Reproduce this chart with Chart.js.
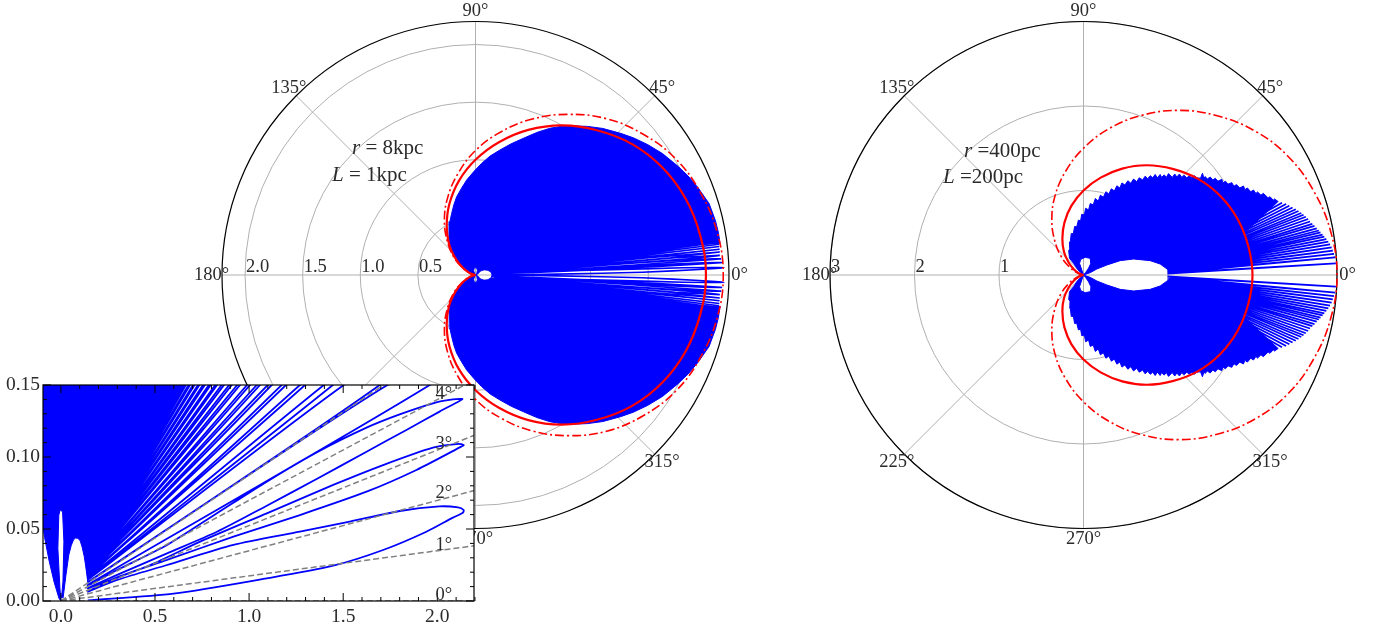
<!DOCTYPE html>
<html>
<head>
<meta charset="utf-8">
<title>Polar emission patterns</title>
<script src="https://cdn.jsdelivr.net/npm/chart.js"></script>
<style>
    body { margin: 0; background: #fff; }
    canvas { position: absolute; left: 0; top: 0; }
</style>
</head>
<body>
<canvas id="leftPolar" width="1380" height="626"></canvas>
<canvas id="rightPolar" width="1380" height="626"></canvas>
<canvas id="inset" width="1380" height="626"></canvas>
<script>
// red reference curves, one radius per 10 degrees from 0 to 180
const redAngles = [0, 10, 20, 30, 40, 50, 60, 70, 80, 90, 100, 110, 120, 130, 140, 150, 160, 170, 180];
const solidR = [2.00, 1.98, 1.94, 1.87, 1.77, 1.64, 1.50, 1.34, 1.17, 1.00, 0.83, 0.66, 0.50, 0.36, 0.23, 0.13, 0.06, 0.015, 0];
const leftDashR = [2.15, 2.13, 2.08, 2.01, 1.90, 1.77, 1.61, 1.44, 1.26, 1.08, 0.89, 0.71, 0.54, 0.38, 0.25, 0.14, 0.06, 0.016, 0];
const rightDashR = [3.00, 2.97, 2.90, 2.80, 2.65, 2.46, 2.25, 2.01, 1.76, 1.50, 1.24, 0.99, 0.75, 0.53, 0.35, 0.20, 0.09, 0.02, 0];

// left panel, blue outline of the solid part
const envelopeAngles = [7.5, 10, 12.8, 17, 21.4, 25, 28.2, 33, 37.1, 41, 44.3, 49, 53, 56, 59.3, 63.1, 66.7, 70.7, 74.8, 78.9, 83, 86.8, 90.8, 95.3, 99, 103.5, 107, 111.1, 115.5, 120.2, 126, 132, 140, 150, 153, 156, 160, 170, 180];
const envelopeR = [2.14, 2.14, 2.135, 2.12, 2.075, 2.035, 1.995, 1.935, 1.875, 1.815, 1.76, 1.685, 1.615, 1.56, 1.505, 1.428, 1.347, 1.257, 1.18, 1.106, 1.04, 0.971, 0.9, 0.828, 0.765, 0.699, 0.64, 0.574, 0.515, 0.452, 0.39, 0.33, 0.22, 0.125, 0.097, 0.068, 0.038, 0.01, 0];
// white spike and white petal next to the origin, then the edge of the solid part
const innerX = [0, -0.005, -0.016, -0.011, -0.004, 0.009, 0.016, 0.011, 0.0035, 0.012, 0.027, 0.042, 0.055, 0.067, 0.078, 0.09, 0.102, 0.113, 0.124, 0.131, 0.143, 0.145, 0.66, 1.0, 1.5, 1.8, 2.12];
const innerY = [0, 0.0088, 0.0366, 0.0597, 0.0632, 0.062, 0.0412, 0.0134, 0.0023, 0.0023, 0.018, 0.032, 0.0385, 0.0425, 0.0437, 0.0435, 0.042, 0.0375, 0.031, 0.025, 0.0134, 0.0325, 0.15, 0.215, 0.23, 0.26, 0.272];

// first three lobes
const lobeX = [0.143, 0.599, 1.094, 1.447, 1.712, 1.942, 2.083, 2.136, 2.14, 2.11, 2.012, 1.8, 1.535, 1.27, 0.917, 0.564, 0.299, 0.143,
    0.299, 0.564, 0.917, 1.27, 1.624, 1.889, 2.127, 2.14, 2.101, 1.977, 1.712, 1.447, 1.094, 0.74, 0.475, 0.143,
    0.299, 0.564, 0.829, 1.094, 1.359, 1.624, 1.836, 2.012, 2.118, 2.133, 2.065, 1.977, 1.8, 1.624, 1.359, 1.094, 0.829, 0.564, 0.299, 0.143];
const lobeY = [0.0005, 0.0051, 0.0157, 0.0245, 0.0354, 0.0481, 0.0579, 0.0613, 0.0632, 0.065, 0.0657, 0.0625, 0.0551, 0.0481, 0.0389, 0.025, 0.0146, 0.0065,
    0.0164, 0.0285, 0.0447, 0.0597, 0.0759, 0.091, 0.1072, 0.1083, 0.109, 0.1065, 0.0944, 0.0806, 0.0609, 0.0412, 0.025, 0.0088,
    0.0181, 0.0331, 0.0481, 0.0662, 0.0847, 0.1037, 0.1188, 0.1315, 0.1389, 0.1403, 0.1396, 0.1373, 0.1296, 0.1204, 0.1032, 0.0829, 0.0609, 0.0389, 0.0215, 0.0106];

// narrower lobes: start height, crossings of y = 0.15, tip
const fanStartY = [0.0113, 0.0131, 0.0147, 0.0163, 0.0177, 0.0189, 0.02, 0.0211, 0.0222, 0.0233, 0.0244, 0.0255, 0.0265, 0.0276, 0.0287, 0.0298, 0.0308, 0.0318];
const fanLowX = [1.96, 1.694, 1.445, 1.297, 1.196, 1.12, 1.058, 1.005, 0.952, 0.908, 0.867, 0.83, 0.796, 0.765, 0.736, 0.71, 0.686, 0.664];
const fanHighX = [1.735, 1.503, 1.397, 1.27, 1.173, 1.099, 1.041, 0.989, 0.937, 0.894, 0.854, 0.82, 0.786, 0.755, 0.728, 0.702, 0.678, 0.657];
const fanTipX = [2.12, 2.12, 2.118, 2.116, 2.113, 2.11, 2.108, 2.106, 2.104, 2.1, 2.098, 2.096, 2.093, 2.09, 2.087, 2.084, 2.08, 2.077];
const fanTipY = [0.17, 0.199, 0.223, 0.247, 0.267, 0.285, 0.302, 0.317, 0.333, 0.35, 0.365, 0.381, 0.397, 0.412, 0.428, 0.443, 0.457, 0.472];

// right panel, jagged top of the blue area going anticlockwise
const jagX = [2.306, 2.26, 2.245, 2.207, 2.185, 2.128, 2.1, 2.06, 2.04, 2.012, 1.98, 1.94, 1.91, 1.893, 1.85, 1.81, 1.78, 1.755, 1.71, 1.68, 1.65, 1.637, 1.59, 1.56, 1.53, 1.499, 1.465, 1.44, 1.425, 1.408, 1.385, 1.341, 1.31, 1.282, 1.25, 1.223, 1.19, 1.164, 1.135, 1.105, 1.08, 1.05, 1.006, 0.98, 0.955, 0.925, 0.907, 0.875, 0.848, 0.82, 0.79, 0.76, 0.73, 0.7, 0.66, 0.63, 0.592, 0.56, 0.525, 0.49, 0.455, 0.43, 0.395, 0.365, 0.33, 0.3, 0.265, 0.235, 0.2, 0.175, 0.14, 0.115, 0.08, 0.06, 0.025, 0.01, -0.02, -0.035, -0.06, -0.08, -0.105, -0.12, -0.145, -0.155, -0.165, -0.16, -0.175, -0.166, -0.118, -0.071, -0.032, 0];
const jagY = [0.868, 0.9, 0.885, 0.927, 0.912, 0.966, 0.945, 0.983, 0.965, 1.006, 0.985, 1.03, 1.01, 1.053, 1.03, 1.07, 1.05, 1.093, 1.075, 1.11, 1.09, 1.132, 1.11, 1.145, 1.125, 1.16, 1.135, 1.165, 1.145, 1.205, 1.145, 1.15, 1.175, 1.15, 1.175, 1.15, 1.18, 1.155, 1.195, 1.16, 1.195, 1.155, 1.2, 1.155, 1.185, 1.155, 1.19, 1.15, 1.19, 1.15, 1.175, 1.14, 1.17, 1.125, 1.15, 1.105, 1.135, 1.085, 1.115, 1.065, 1.09, 1.03, 1.055, 0.995, 1.02, 0.96, 0.985, 0.92, 0.945, 0.875, 0.905, 0.83, 0.845, 0.77, 0.79, 0.71, 0.72, 0.64, 0.65, 0.57, 0.575, 0.49, 0.49, 0.4, 0.39, 0.31, 0.29, 0.197, 0.138, 0.067, 0.028, 0];
// small petal, top of the white oval, then the edge of the solid part
const holeX = [-0.02, -0.047, -0.032, 0.02, 0.079, 0.087, 0.059, 0.024, 0, 0.079, 0.158, 0.276, 0.434, 0.592, 0.789, 0.907, 0.994, 1.494, 1.674, 1.932];
const holeY = [0.059, 0.138, 0.185, 0.209, 0.197, 0.138, 0.079, 0.028, 0, 0.028, 0.071, 0.118, 0.17, 0.189, 0.17, 0.13, 0.067, 0.131, 0.295, 0.518];
// separate spikes reaching out towards 0 degrees
const spikeAngles = [2.65, 4.0, 4.8, 5.6, 6.36, 7.1, 7.75, 8.4, 9.04, 9.6, 10.2, 10.7, 11.3, 12.0, 12.6, 13.3, 14.0, 14.7, 15.3, 15.9, 16.6, 17.2, 17.9, 18.6, 19.3, 20.0];
const spikeR = [2.99, 2.985, 2.975, 2.965, 2.955, 2.94, 2.924, 2.905, 2.886, 2.87, 2.85, 2.835, 2.815, 2.795, 2.775, 2.755, 2.74, 2.72, 2.7, 2.68, 2.655, 2.63, 2.6, 2.57, 2.54, 2.5];
const spikeStartY = [0.015, 0.022, 0.03, 0.035, 0.04, 0.045, 0.05, 0.054, 0.058, 0.061, 0.063, 0.065, 0.067, 0.069, 0.07, 0.072, 0.073, 0.075, 0.076, 0.078, 0.08, 0.082, 0.084, 0.086, 0.088, 0.092];

// inset rays
const rayDegrees = [0, 1, 2, 3, 4, 5];
const rayLabels = ["0°", "1°", "2°", "3°", "4°"];
const rayLabelY = [0.0042, 0.0389, 0.0748, 0.109, 0.1437];

// axis labels
const angleTicks = [0, 45, 90, 135, 180, 225, 270, 315];
const leftRings = [0.5, 1.0, 1.5, 2.0];
const leftRingLabels = ["0.5", "1.0", "1.5", "2.0"];
const rightRings = [1, 2, 3];
const rightRingLabels = ["1", "2", "3"];
const insetXTicks = [0, 0.5, 1, 1.5, 2];
const insetYTicks = [0, 0.05, 0.1, 0.15];

const FONT = '18.5px "Liberation Serif"';
const NOTE_FONT = '21px "Liberation Serif"';
const NOTE_ITALIC = 'italic 21px "Liberation Serif"';
const TEXT = "#2b2b2b";
const BLUE = "#0000ff";
const RED = "#ff0000";

function toXY(deg, r) {
    const a = deg * Math.PI / 180;
    return { x: r * Math.cos(a), y: r * Math.sin(a) };
}
function zipXY(xs, ys) {
    return xs.map((x, i) => ({ x: x, y: ys[i] }));
}
function mirror(points) {
    return points.map(p => ({ x: p.x, y: -p.y }));
}
// full closed curve from one half, going through 180 -> 0 -> -180
function redCurve(radii) {
    const top = redAngles.map((a, i) => toXY(a, radii[i]));
    return top.slice().reverse().concat(mirror(top).slice(1));
}

const leftSolid = zipXY(innerX, innerY).concat(envelopeAngles.map((a, i) => toXY(a, envelopeR[i])));
function leftLobes() {
    const pts = zipXY(lobeX, lobeY);
    fanLowX.forEach((low, i) => {
        pts.push({ x: 0.143, y: fanStartY[i] });
        pts.push({ x: low, y: 0.15 });
        pts.push({ x: fanTipX[i], y: fanTipY[i] });
        pts.push({ x: fanHighX[i], y: 0.15 });
    });
    pts.push({ x: 0.143, y: 0.0318 });
    return pts;
}
function rightSpikes() {
    const pts = [];
    spikeAngles.forEach((a, i) => {
        pts.push({ x: 0.994, y: spikeStartY[i] });
        pts.push(toXY(a, spikeR[i]));
    });
    pts.push({ x: 0.994, y: 0.095 });
    return pts;
}
const rightSolid = zipXY(jagX, jagY).concat(zipXY(holeX, holeY));

function line(points, color, width, extra) {
    return Object.assign({ data: points, showLine: true, borderColor: color, backgroundColor: color,
        borderWidth: width, pointRadius: 0, tension: 0, clip: false }, extra || {});
}
function solid(points) {
    return line(points, BLUE, 1, { solid: true });
}
const dashDot = { borderDash: [9, 3, 2, 3], tension: 0.4 };

// fills the datasets flagged solid, their points already placed by the scales
const solidFill = {
    id: "solidFill",
    beforeDatasetDraw(chart, args) {
        const ds = chart.data.datasets[args.index];
        if (!ds.solid) return;
        const ctx = chart.ctx, a = chart.chartArea;
        ctx.save();
        if (ds.clipFill) {
            ctx.beginPath();
            ctx.rect(a.left, a.top, a.right - a.left, a.bottom - a.top);
            ctx.clip();
        }
        ctx.beginPath();
        args.meta.data.forEach((p, i) => i ? ctx.lineTo(p.x, p.y) : ctx.moveTo(p.x, p.y));
        ctx.closePath();
        ctx.fillStyle = BLUE;
        ctx.fill();
        ctx.restore();
    }
};

function polarFrame(rMax, rings, ringLabels, notes) {
    return {
        id: "polarFrame",
        beforeDatasetsDraw(chart) {
            const ctx = chart.ctx, sx = chart.scales.x, sy = chart.scales.y;
            const cx = sx.getPixelForValue(0), cy = sy.getPixelForValue(0);
            const unit = sx.getPixelForValue(1) - cx;
            ctx.save();
            ctx.strokeStyle = "#b0b0b0";
            ctx.lineWidth = 1;
            rings.forEach(r => {
                ctx.beginPath();
                ctx.arc(cx, cy, r * unit, 0, Math.PI * 2);
                ctx.stroke();
            });
            angleTicks.forEach(deg => {
                const a = deg * Math.PI / 180;
                ctx.beginPath();
                ctx.moveTo(cx, cy);
                ctx.lineTo(cx + rMax * unit * Math.cos(a), cy - rMax * unit * Math.sin(a));
                ctx.stroke();
            });
            ctx.strokeStyle = "#000";
            ctx.lineWidth = 1.2;
            ctx.beginPath();
            ctx.arc(cx, cy, rMax * unit, 0, Math.PI * 2);
            ctx.stroke();

            ctx.font = FONT;
            ctx.fillStyle = TEXT;
            ctx.textAlign = "center";
            ctx.textBaseline = "middle";
            angleTicks.forEach(deg => {
                const a = deg * Math.PI / 180;
                const d = rMax * unit + 10.5;
                ctx.fillText(deg + "°", cx + d * Math.cos(a), cy - d * Math.sin(a));
            });
            ctx.textAlign = "left";
            ctx.textBaseline = "alphabetic";
            rings.forEach((r, i) => ctx.fillText(ringLabels[i], cx - r * unit + 1, cy - 3));
            notes.forEach(n => {
                ctx.font = NOTE_ITALIC;
                ctx.fillText(n.sym, n.x, n.y);
                const w = ctx.measureText(n.sym).width;
                ctx.font = NOTE_FONT;
                ctx.fillText(n.rest, n.x + w, n.y);
            });
            ctx.restore();
        }
    };
}

function polarOptions(rMax, left, right, top, bottom) {
    return {
        responsive: false,
        animation: false,
        events: [],
        layout: { padding: { left: left, right: 1380 - right, top: top, bottom: 626 - bottom } },
        plugins: { legend: { display: false }, tooltip: { enabled: false } },
        scales: {
            x: { type: "linear", display: false, min: -rMax, max: rMax },
            y: { type: "linear", display: false, min: -rMax, max: rMax }
        }
    };
}

new Chart(document.getElementById("leftPolar"), {
    type: "scatter",
    data: { datasets: [
        line(redCurve(solidR), RED, 2.2, { tension: 0.4 }),
        line(redCurve(leftDashR), RED, 1.6, dashDot),
        line(leftLobes(), BLUE, 1.6),
        line(mirror(leftLobes()), BLUE, 1.6),
        solid(leftSolid),
        solid(mirror(leftSolid))
    ] },
    options: polarOptions(2.2, 222, 729, 21.5, 528.5),
    plugins: [solidFill, polarFrame(2.2, leftRings, leftRingLabels, [
        { sym: "r", rest: " = 8kpc", x: 352, y: 154 },
        { sym: "L", rest: " = 1kpc", x: 332, y: 181 }
    ])]
});

new Chart(document.getElementById("rightPolar"), {
    type: "scatter",
    data: { datasets: [
        line(redCurve(solidR), RED, 2.2, { tension: 0.4 }),
        line(redCurve(rightDashR), RED, 1.6, dashDot),
        line(rightSpikes(), BLUE, 1.7),
        line(mirror(rightSpikes()), BLUE, 1.7),
        solid(rightSolid),
        solid(mirror(rightSolid))
    ] },
    options: polarOptions(3, 830, 1337, 21.5, 528.5),
    plugins: [solidFill, polarFrame(3, rightRings, rightRingLabels, [
        { sym: "r", rest: " =400pc", x: 964, y: 157 },
        { sym: "L", rest: " =200pc", x: 943, y: 183 }
    ])]
});

// white plate, frame and inward ticks on all four sides, matplotlib style
const insetFrame = {
    id: "insetFrame",
    beforeDatasetsDraw(chart) {
        const ctx = chart.ctx, a = chart.chartArea;
        ctx.save();
        ctx.fillStyle = "#fff";
        ctx.fillRect(a.left, a.top, a.right - a.left, a.bottom - a.top);
        ctx.restore();
    },
    afterDatasetsDraw(chart) {
        const ctx = chart.ctx, a = chart.chartArea, sx = chart.scales.x, sy = chart.scales.y;
        ctx.save();
        ctx.strokeStyle = "#000";
        ctx.lineWidth = 1;
        ctx.beginPath();
        for (let i = 0; i <= 22; i++) {
            const px = sx.getPixelForValue(i / 10), len = i % 5 === 0 ? 8 : 4;
            ctx.moveTo(px, a.bottom); ctx.lineTo(px, a.bottom - len);
            ctx.moveTo(px, a.top); ctx.lineTo(px, a.top + len);
        }
        for (let i = 0; i <= 15; i++) {
            const py = sy.getPixelForValue(i / 100), len = i % 5 === 0 ? 8 : 4;
            ctx.moveTo(a.left, py); ctx.lineTo(a.left + len, py);
            ctx.moveTo(a.right, py); ctx.lineTo(a.right - len, py);
        }
        ctx.stroke();
        ctx.lineWidth = 1.2;
        ctx.strokeRect(a.left, a.top, a.right - a.left, a.bottom - a.top);

        ctx.font = FONT;
        ctx.fillStyle = TEXT;
        ctx.textAlign = "center";
        ctx.textBaseline = "middle";
        rayLabels.forEach((t, i) => ctx.fillText(t, sx.getPixelForValue(2.035), sy.getPixelForValue(rayLabelY[i])));
        ctx.restore();
    }
};

const rays = rayDegrees.map(d => line([toXY(d, 0), toXY(d, 2.4)], "#808080", 1.5, { borderDash: [6, 3], clip: undefined }));
const tickFont = { family: "Liberation Serif", size: 19.5 };

new Chart(document.getElementById("inset"), {
    type: "scatter",
    data: { datasets: rays.concat([
        line(leftLobes(), BLUE, 1.8, { clip: undefined, tension: 0.25 }),
        Object.assign(solid(leftSolid), { clip: undefined, clipFill: true })
    ]) },
    options: {
        responsive: false,
        animation: false,
        events: [],
        layout: { padding: { left: 0, right: 1380 - 474, top: 385, bottom: 0 } },
        plugins: { legend: { display: false }, tooltip: { enabled: false } },
        scales: {
            x: {
                type: "linear", min: -0.095, max: 2.195,
                grid: { display: false, drawTicks: false }, border: { display: false },
                afterFit(s) { s.height = 25; },
                afterBuildTicks(s) { s.ticks = insetXTicks.map(v => ({ value: v })); },
                ticks: { autoSkip: false, maxRotation: 0, padding: 4, color: TEXT, font: tickFont, callback: v => v.toFixed(1) }
            },
            y: {
                type: "linear", min: 0, max: 0.15,
                grid: { display: false, drawTicks: false }, border: { display: false },
                afterFit(s) { s.width = 43; },
                afterBuildTicks(s) { s.ticks = insetYTicks.map(v => ({ value: v })); },
                ticks: { autoSkip: false, padding: 3, color: TEXT, font: tickFont, callback: v => v.toFixed(2) }
            }
        }
    },
    plugins: [solidFill, insetFrame]
});
</script>
</body>
</html>
